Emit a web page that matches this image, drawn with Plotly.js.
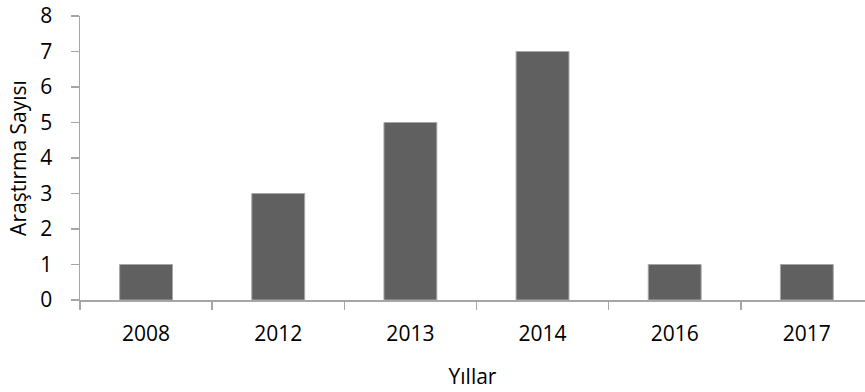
<!DOCTYPE html>
<html>
<head>
<meta charset="utf-8">
<script src="https://cdn.plot.ly/plotly-3.0.1.min.js"></script>
<style>html,body{margin:0;padding:0;background:#fff;}#chart{width:865px;height:392px;}</style>
</head>
<body>
<div id="chart"></div>
<script>
const years = ["2008", "2012", "2013", "2014", "2016", "2017"];
const counts = [1, 3, 5, 7, 1, 1];
const yTicks = [0, 1, 2, 3, 4, 5, 6, 7, 8];
const xTitle = "Yıllar";
const yTitle = "Araştırma Sayısı";

const font = {family: "Open Sans, Noto Sans, sans-serif", size: 21, color: "#000"};
const axisGray = "#a6a6a6";

Plotly.newPlot("chart", [{
  type: "bar",
  x: years,
  y: counts,
  width: 0.4,
  marker: {color: "#606060", line: {color: "#a6a6a6", width: 1}},
  hoverinfo: "skip"
}], {
  width: 865, height: 392,
  margin: {l: 80, r: 0, t: 16, b: 92},
  paper_bgcolor: "#fff", plot_bgcolor: "#fff",
  font: font,
  showlegend: false,
  xaxis: {
    type: "category",
    range: [-0.5, 5.44],
    showline: true, linecolor: axisGray, linewidth: 1.5,
    ticks: "outside", tickson: "boundaries", ticklen: 8, tickcolor: axisGray, tickwidth: 1.5,
    showgrid: false, zeroline: false,
    tickfont: font,
    ticklabelstandoff: 14,
    title: {text: xTitle, font: font, standoff: 23},
    automargin: false
  },
  yaxis: {
    range: [0, 8],
    tickvals: yTicks,
    showline: true, linecolor: axisGray, linewidth: 1.5,
    ticks: "outside", ticklen: 8, tickcolor: axisGray, tickwidth: 1.5,
    showgrid: false, zeroline: false,
    tickfont: font,
    ticklabelstandoff: 14,
    title: {text: yTitle, font: font, standoff: 8},
    automargin: false
  }
}, {displayModeBar: false, staticPlot: true});
</script>
</body>
</html>
